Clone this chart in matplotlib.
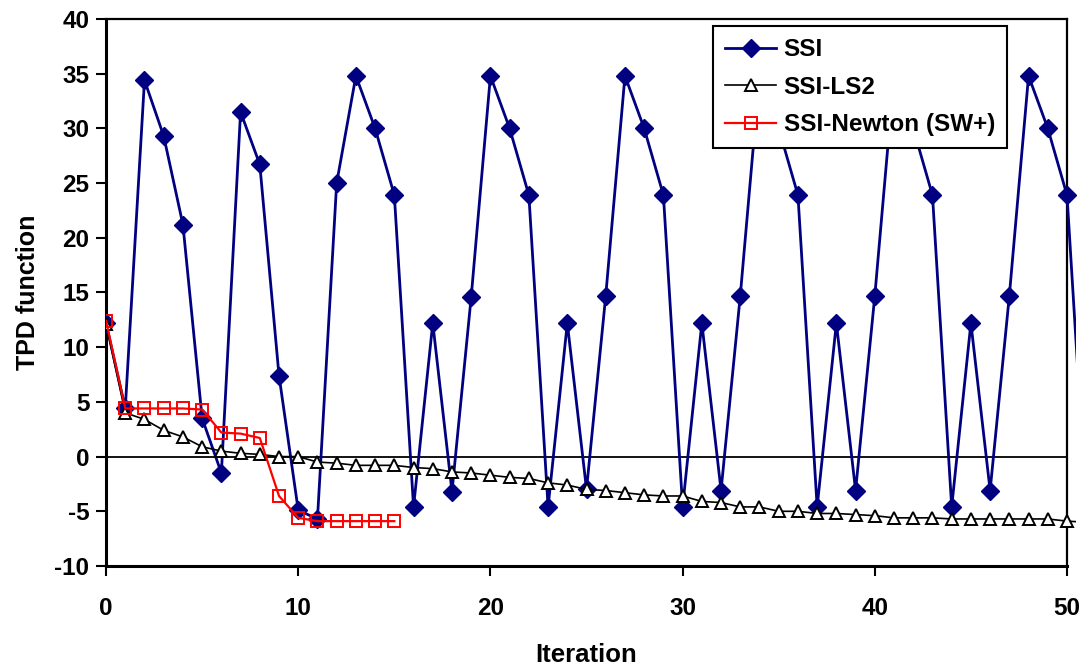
import matplotlib
matplotlib.use("Agg")
import matplotlib.pyplot as plt
from matplotlib.patches import Rectangle

plt.rcParams['font.family'] = ['Liberation Sans', 'DejaVu Sans']
plt.rcParams['axes.unicode_minus'] = False

# ---- data ----
ssi_x = list(range(0, 52))
ssi_y = [12.2, 4.4, 34.4, 29.3, 21.2, 3.5, -1.5, 31.5, 26.7, 7.4,
         -4.9, -5.7, 25.0, 34.8, 30.0, 23.9, -4.6, 12.2, -3.2, 14.6,
         34.8, 30.0, 23.9, -4.6, 12.2, -3.0, 14.7, 34.8, 30.0, 23.9,
         -4.6, 12.2, -3.1, 14.7, 34.8, 30.0, 23.9, -4.6, 12.2, -3.1,
         14.7, 34.8, 30.0, 23.9, -4.6, 12.2, -3.1, 14.7, 34.8, 30.0,
         23.9, -4.6]

ls2_x = list(range(0, 52))
ls2_y = [12.1, 4.0, 3.4, 2.4, 1.8, 0.9, 0.5, 0.3, 0.2, 0.0,
         0.0, -0.5, -0.6, -0.8, -0.8, -0.8, -1.0, -1.1, -1.4, -1.5,
         -1.7, -1.9, -2.0, -2.4, -2.6, -3.0, -3.1, -3.3, -3.5, -3.6,
         -3.6, -4.1, -4.2, -4.6, -4.6, -5.0, -5.0, -5.2, -5.2, -5.3,
         -5.4, -5.6, -5.6, -5.6, -5.7, -5.7, -5.7, -5.7, -5.7, -5.7,
         -5.9, -6.0]

newton_x = list(range(0, 16))
newton_y = [12.4, 4.4, 4.4, 4.4, 4.4, 4.3, 2.2, 2.1, 1.7, -3.6,
            -5.6, -5.9, -5.9, -5.9, -5.9, -5.9]

series_labels = ['SSI', 'SSI-LS2', 'SSI-Newton (SW+)']
xticks = [0, 10, 20, 30, 40, 50]
yticks = [-10, -5, 0, 5, 10, 15, 20, 25, 30, 35, 40]

# ---- figure ----
fig = plt.figure(figsize=(10.91, 6.68), dpi=100)
ax = fig.add_axes([0.0972, 0.1527, 0.8808, 0.8189])

ax.axhline(0, color='black', lw=1.3, zorder=1)

l1, = ax.plot(ssi_x, ssi_y, color='#000080', lw=2.0, marker='D', ms=9,
              mfc='#000080', mec='#000080', label=series_labels[0], zorder=3)
l2, = ax.plot(ls2_x, ls2_y, color='black', lw=1.2, marker='^', ms=8.5,
              mfc='white', mec='black', mew=1.4, label=series_labels[1], zorder=4)
l3, = ax.plot(newton_x, newton_y, color='#FF0000', lw=1.6, marker='s', ms=9,
              mfc='none', mec='#FF0000', mew=1.4, label=series_labels[2], zorder=5)

clip = Rectangle((0, 0), 1.009, 1.0, transform=ax.transAxes)
for ln in (l1, l2, l3):
    ln.set_clip_path(clip)

ax.set_xlim(0, 50)
ax.set_ylim(-10, 40)
ax.set_xticks(xticks)
ax.set_yticks(yticks)
ax.tick_params(axis='both', direction='out', length=7, width=1.5,
               labelsize=17.5, colors='black')
ax.tick_params(axis='x', pad=15)
ax.tick_params(axis='y', pad=5)
for lab in ax.get_xticklabels() + ax.get_yticklabels():
    lab.set_fontweight('bold')

ax.spines['left'].set_linewidth(2.2)
ax.spines['bottom'].set_linewidth(2.2)
ax.spines['top'].set_linewidth(1.6)
ax.spines['right'].set_linewidth(1.6)

ax.set_xlabel('Iteration', fontsize=18.5, fontweight='bold', labelpad=17)
ax.set_ylabel('TPD function', fontsize=18, fontweight='bold', labelpad=10)

leg = ax.legend(loc='upper right', bbox_to_anchor=(0.9378, 0.9873),
                prop={'size': 17.5, 'weight': 'bold'}, frameon=True,
                fancybox=False, edgecolor='black', framealpha=1,
                handlelength=2.1, labelspacing=0.6, borderpad=0.5,
                handletextpad=0.3, borderaxespad=0)
leg.get_frame().set_linewidth(1.5)

fig.savefig('out.png', dpi=100)
